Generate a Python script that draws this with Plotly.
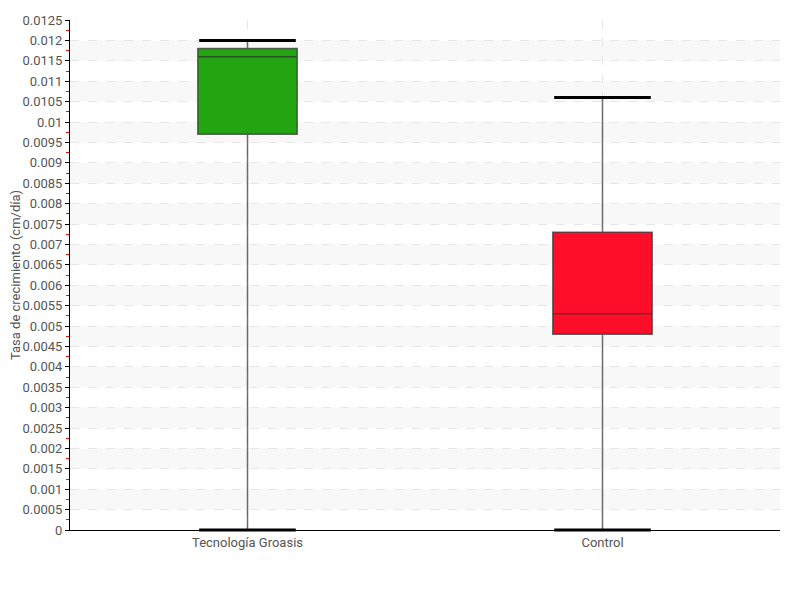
import plotly.graph_objects as go

categories = ["Tecnología Groasis", "Control"]
lower_fence = [0.0, 0.0]
q1 = [0.0097, 0.0048]
median = [0.0116, 0.0053]
q3 = [0.0118, 0.0073]
upper_fence = [0.0120, 0.0106]
colors = ["#22a511", "#ff0e2a"]

y_min, y_max, y_step = 0.0, 0.0125, 0.0005

FONT = "Roboto, Liberation Sans, sans-serif"

fig = go.Figure()
for i, cat in enumerate(categories):
    fig.add_trace(go.Box(
        x=[cat], q1=[q1[i]], median=[median[i]], q3=[q3[i]],
        lowerfence=[lower_fence[i]], upperfence=[upper_fence[i]],
        fillcolor=colors[i], line=dict(color="rgba(50,50,50,0.7)", width=1.5),
        width=0.28, whiskerwidth=0, boxpoints=False, hoverinfo="skip",
        showlegend=False,
    ))
    fig.add_trace(go.Scatter(
        x=[cat, cat], y=[lower_fence[i], upper_fence[i]], mode="markers",
        marker=dict(symbol="line-ew", size=69, line=dict(color="black", width=3)),
        showlegend=False, hoverinfo="skip", cliponaxis=False,
    ))

# alternating background bands
n = int(round((y_max - y_min) / y_step))
shapes = []
for k in range(n):
    lo = y_min + k * y_step
    if k % 2 == 1:
        shapes.append(dict(type="rect", xref="paper", yref="y", x0=0, x1=1,
                           y0=lo, y1=lo + y_step, fillcolor="#f8f8f8",
                           line=dict(width=0), layer="below"))

fig.update_layout(
    width=800, height=600,
    margin=dict(l=62, r=28, t=12, b=78),
    paper_bgcolor="white", plot_bgcolor="white",
    font=dict(family=FONT, size=13, color="#555"),
    boxmode="overlay",
    shapes=shapes,
    xaxis=dict(
        range=[-0.5, 1.5], automargin=False,
        showgrid=True, gridcolor="#e6e6e6", griddash="dash",
        showline=True, linecolor="black", linewidth=1,
        ticks="", tickfont=dict(size=13, color="#555"),
    ),
    yaxis=dict(
        range=[y_min, y_max], dtick=y_step, tick0=0, automargin=False,
        tickformat=".4~f",
        showgrid=True, gridcolor="#e6e6e6", griddash="dash",
        showline=True, linecolor="black", linewidth=1,
        ticks="outside", ticklen=4, tickcolor="black",
        minor=dict(dtick=y_step / 2, ticks="outside", ticklen=3, tickcolor="red", showgrid=False),
        zeroline=False,
        title=dict(text="Tasa de crecimiento (cm/día)", font=dict(size=13, color="#555"), standoff=14),
        tickfont=dict(size=13, color="#555"),
    ),
)

fig.write_html("out.html")
